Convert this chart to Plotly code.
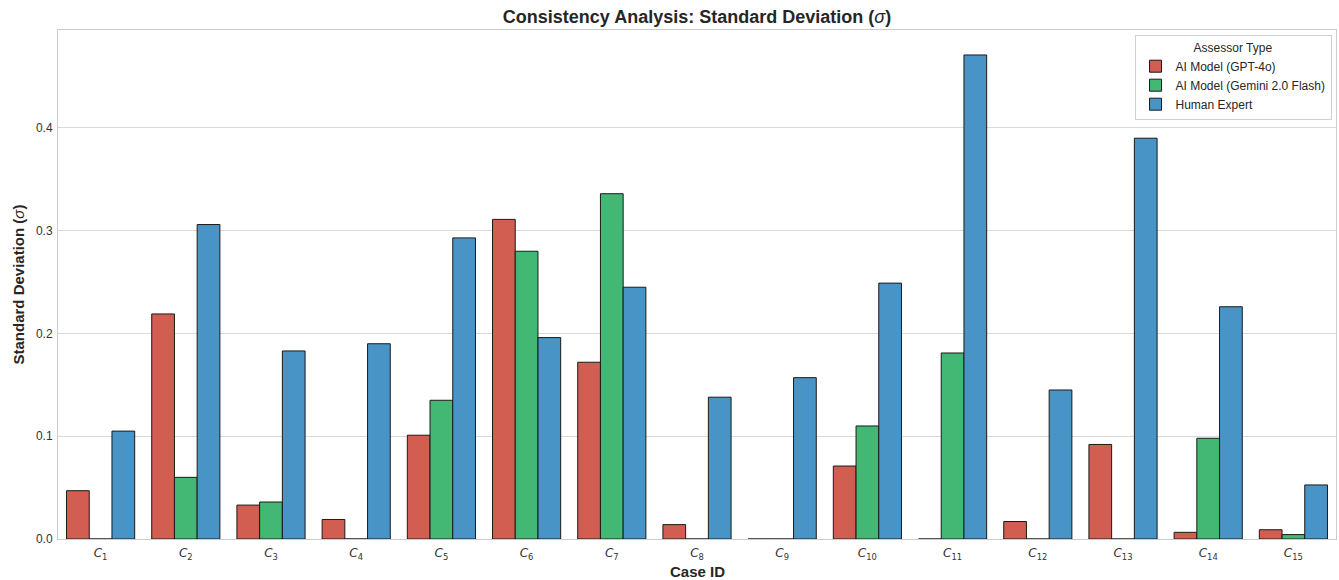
import plotly.graph_objects as go

cases = [f"C{i}" for i in range(1, 16)]
tick_text = [f"<i>C</i><sub>{i}</sub>" for i in range(1, 16)]
series_names = ["AI Model (GPT-4o)", "AI Model (Gemini 2.0 Flash)", "Human Expert"]
gpt4o = [0.047, 0.219, 0.033, 0.019, 0.101, 0.311, 0.172, 0.014, 0.0, 0.071, 0.0, 0.017, 0.092, 0.0065, 0.009]
gemini = [0.0, 0.060, 0.036, 0.0, 0.135, 0.280, 0.336, 0.0, 0.0, 0.110, 0.181, 0.0, 0.0, 0.098, 0.0043]
human = [0.105, 0.306, 0.183, 0.190, 0.293, 0.196, 0.245, 0.138, 0.157, 0.249, 0.471, 0.145, 0.390, 0.226, 0.0526]
colors = ["#d25e51", "#42b874", "#4994c6"]

fig = go.Figure()
for name, vals, col in zip(series_names, [gpt4o, gemini, human], colors):
    fig.add_trace(go.Bar(
        x=cases, y=vals, name=name,
        marker=dict(color=col, line=dict(color="#1a1a1a", width=1)),
    ))

fig.update_layout(
    width=1339, height=580,
    margin=dict(l=58, r=3, t=30, b=41, autoexpand=False),
    plot_bgcolor="white", paper_bgcolor="white",
    barmode="group", bargap=0.2, bargroupgap=0,
    font=dict(family="Liberation Sans, Arial, sans-serif", color="#262626"),
    title=dict(
        text="<b>Consistency Analysis: Standard Deviation (</b><i>σ</i><b>)</b>",
        x=0.5, xref="paper", xanchor="center", y=1, yref="container", yanchor="top", pad=dict(t=10),
        font=dict(size=18, color="#262626"),
    ),
    legend=dict(
        x=0.9965, y=0.99, xanchor="right", yanchor="top",
        bgcolor="rgba(255,255,255,0.85)", bordercolor="#d0d0d0", borderwidth=1,
        title=dict(text="Assessor Type", side="top center", font=dict(size=12, color="#262626")),
        font=dict(size=12, color="#262626"),
        entrywidth=178, entrywidthmode="pixels",
        tracegroupgap=2,
    ),
    xaxis=dict(
        tickmode="array", tickvals=cases, ticktext=tick_text,
        tickfont=dict(family="DejaVu Sans", size=12, color="#333333"),
        showgrid=False, showline=True, linecolor="#cccccc", linewidth=1, mirror=True,
        ticks="outside", ticklen=3, tickcolor="rgba(0,0,0,0)", automargin=False,
    ),
    yaxis=dict(
        range=[0, 0.4953],
        tickvals=[0.0, 0.1, 0.2, 0.3, 0.4], ticktext=["0.0", "0.1", "0.2", "0.3", "0.4"],
        tickfont=dict(size=12, color="#333333"),
        showgrid=True, gridcolor="#d9d9d9", gridwidth=1,
        showline=True, linecolor="#cccccc", linewidth=1, mirror=True,
        zeroline=False, ticks="outside", ticklen=2, tickcolor="rgba(0,0,0,0)", automargin=False,
    ),
    annotations=[
        dict(text="<b>Case ID</b>", xref="paper", yref="paper", x=0.5, y=0, yshift=-22,
             xanchor="center", yanchor="top", showarrow=False, font=dict(size=15, color="#262626")),
        dict(text="<b>Standard Deviation (</b><i>σ</i><b>)</b>", xref="paper", yref="paper", x=0, y=0.5,
             xshift=-40, xanchor="center", yanchor="middle", textangle=-90, showarrow=False,
             font=dict(size=15, color="#262626")),
    ],
)

fig.write_html("out.html", config={"displayModeBar": False},
               post_script="document.body.style.margin='0';document.body.style.overflow='hidden';")
